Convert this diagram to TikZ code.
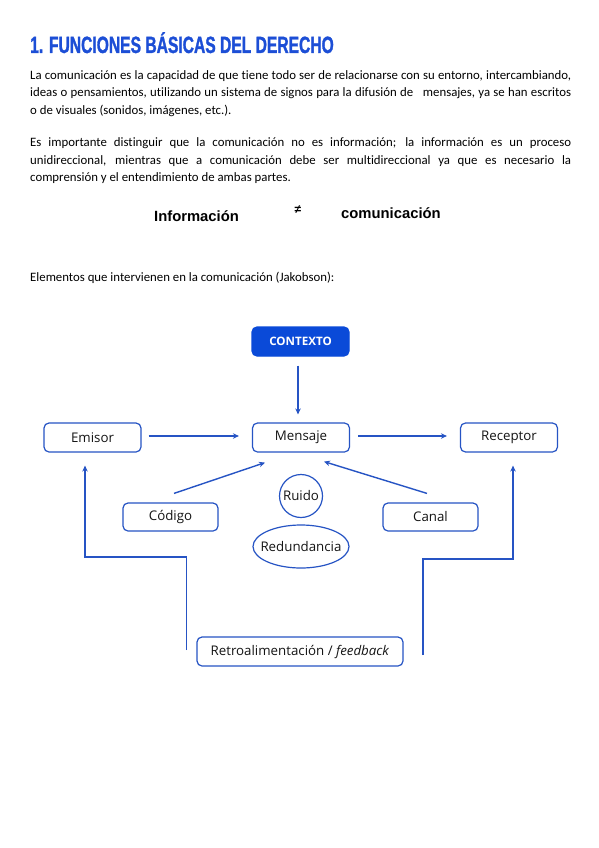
\documentclass[tikz,border=0pt]{standalone}
\usepackage{fontspec}
\usetikzlibrary{arrows.meta,calc,shapes.geometric}
\newfontfamily\titlefont[FakeStretch=0.665,FakeBold=1.2]{Liberation Sans}
\newfontfamily\bodyfont[Ligatures=NoCommon]{Carlito}
\newfontfamily\infofont{Liberation Sans}
\newfontfamily\diagfont[Ligatures=NoCommon]{Open Sans}
\definecolor{titleblue}{RGB}{28,78,214}
\definecolor{ctxblue}{RGB}{10,74,216}
\definecolor{lineblue}{RGB}{38,84,196}
\definecolor{txtgray}{RGB}{20,20,20}
\tikzset{
  bodytxt/.style={inner sep=0pt, anchor=base west, text=black, font=\bodyfont\fontsize{12.8}{15}\selectfont},
  infotxt/.style={inner sep=0pt, anchor=base west, text=black, font=\infofont\bfseries\fontsize{14.8}{17}\selectfont},
  dbox/.style={draw=lineblue, line width=1.2pt, rounded corners=5pt, minimum width=97pt, minimum height=29pt, inner sep=2pt, text=txtgray, font=\diagfont\fontsize{13.3}{15}\selectfont},
  conn/.style={draw=lineblue, line width=1.4pt, -{Stealth[length=6pt,width=5.5pt]}},
  fbline/.style={draw=lineblue, line width=1.8pt, -{Stealth[length=6pt,width=5.5pt]}}
}
\begin{document}
\begin{tikzpicture}[x=1pt,y=-1pt]
\fill[white] (0,0) rectangle (599,848);
\useasboundingbox (0,0) rectangle (599,848);

% title
\node[inner sep=0pt, anchor=base west, text=titleblue, font=\titlefont\bfseries\fontsize{23.5}{28}\selectfont] (title) at (30,53) {1. FUNCIONES BÁSICAS DEL DERECHO};

% paragraph 1
\node[bodytxt] (p1a) at (30,79.5) {\makebox[541pt][s]{La comunicación es la capacidad de que tiene todo ser de relacionarse con su entorno, intercambiando,}};
\node[bodytxt] (p1b) at (30,97) {\makebox[541pt][s]{ideas o pensamientos, utilizando un sistema de signos para la difusión de\ \ \ mensajes, ya se han escritos}};
\node[bodytxt] (p1c) at (30,114.5) {o de visuales (sonidos, imágenes, etc.).};

% paragraph 2
\node[bodytxt] (p2a) at (30,146.5) {\makebox[541pt][s]{Es importante distinguir que la comunicación no es información; la información es un proceso}};
\node[bodytxt] (p2b) at (30,164) {\makebox[541pt][s]{unidireccional, mientras que a comunicación debe ser multidireccional ya que es necesario la}};
\node[bodytxt] (p2c) at (30,181.5) {comprensión y el entendimiento de ambas partes.};

% Informacion != comunicacion
\node[infotxt] (info) at (154,221) {Información};
\node[inner sep=0pt, font=\infofont\bfseries\fontsize{12}{14}\selectfont] (neq) at (298,210) {≠};
\node[infotxt] (comu) at (341,218) {comunicación};

\node[bodytxt] (elem) at (30,281.5) {Elementos que intervienen en la comunicación (Jakobson):};

% diagram nodes
\node[dbox, fill=ctxblue, draw=ctxblue, text=white, font=\diagfont\bfseries\fontsize{11.6}{13}\selectfont] (ctx) at (300.5,341.5) {CONTEXTO};
\node[dbox] (msg) at (301,437.5) {Mensaje};
\node[dbox] (emi) at (92.5,437.5) {Emisor};
\node[dbox] (rec) at (509,437.5) {Receptor};
\node[dbox, minimum width=95pt, minimum height=28pt] (cod) at (170.5,517) {Código};
\node[dbox, minimum width=95pt, minimum height=28pt] (can) at (430.5,517) {Canal};
\node[dbox, circle, rounded corners=0pt, minimum size=43pt, inner sep=0pt] (ruido) at (301,496) {\makebox[0pt]{Ruido}};
\node[dbox, ellipse, rounded corners=0pt, minimum width=96pt, minimum height=43pt, inner sep=0pt] (red) at (301,546.5) {\makebox[0pt]{Redundancia}};
\node[dbox, minimum width=206pt, minimum height=29pt] (fb) at (300,651.5) {Retroalimentación / \textit{feedback}};

% connectors
\draw[conn] ($(ctx.south)+(-2.5,9)$) -- ($(msg.north)+(-3,-8)$);
\draw[conn] ($(emi.east)+(7,-1.5)$) -- ($(msg.west)+(-13,-1.5)$);
\draw[conn] ($(msg.east)+(8,-1.5)$) -- ($(rec.west)+(-13,-1.5)$);
\draw[conn] ($(cod.north)+(3.5,-9)$) -- ($(msg.south)+(-36,10)$);
\draw[conn] ($(can.north)+(-3.5,-9)$) -- ($(msg.south)+(23,9)$);

% feedback lines
\coordinate (fbL) at ($(fb.west)+(-10,-1.5)$);
\coordinate (emiIn) at ($(emi.south)+(-7.5,13)$);
\draw[fbline] (fbL) -- ++(0,-93) -| (emiIn);
\coordinate (fbR) at ($(fb.east)+(19,3.5)$);
\coordinate (recIn) at ($(rec.south)+(4,13)$);
\draw[fbline] (fbR) -- ++(0,-96) -| (recIn);
\end{tikzpicture}
\end{document}
